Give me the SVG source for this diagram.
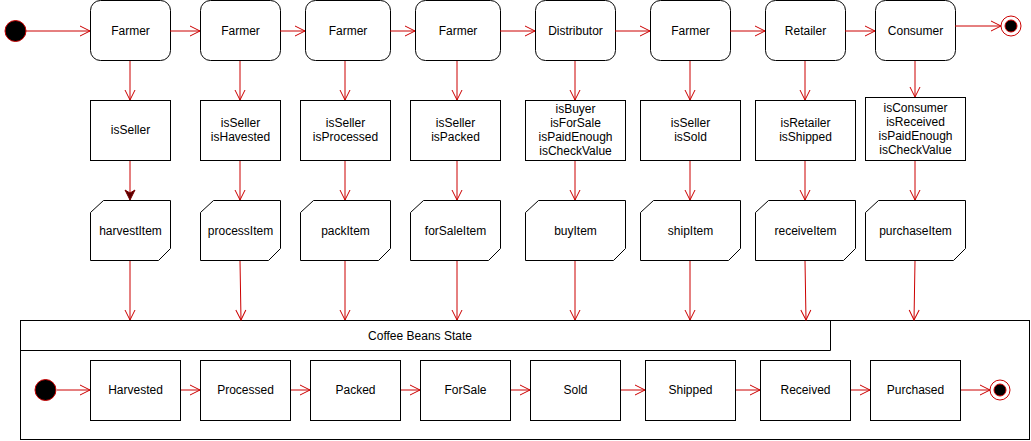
<svg xmlns="http://www.w3.org/2000/svg" width="1031" height="441" viewBox="0 0 1031 441">
<defs>
<style>
text{font-family:"Liberation Sans",Arial,sans-serif;font-size:12px;fill:#000;text-anchor:middle;dominant-baseline:central}
.node{fill:#fff;stroke:#000;stroke-width:1}
.edge{fill:none;stroke:#cc0000;stroke-width:1;marker-end:url(#arr)}
.edge2{fill:none;stroke:#cc0000;stroke-width:1;marker-end:url(#arrf)}
.start{fill:#000;stroke:#cc0000;stroke-width:1}
</style>
<marker id="arr" markerUnits="userSpaceOnUse" markerWidth="12" markerHeight="12" refX="10" refY="5" orient="auto" viewBox="-1 -1 12 12">
<path d="M0,0 L10,5 L0,10" fill="none" stroke="#cc0000" stroke-width="1"/>
</marker>
<marker id="arrf" markerUnits="userSpaceOnUse" markerWidth="12" markerHeight="12" refX="10" refY="5" orient="auto" viewBox="-1 -1 12 12">
<path d="M0,0 L10,5 L0,10 L3,5 Z" fill="#5a0000" stroke="#7a0000" stroke-width="1"/>
</marker>
</defs>
<rect width="1031" height="441" fill="#fff"/>

<g id="start-top"><circle class="start" cx="15.5" cy="31" r="10.5"/></g>
<g id="end-top"><circle cx="1011" cy="26" r="10" fill="#fff" stroke="#cc0000"/><circle cx="1011" cy="26" r="6" fill="#000" stroke="#cc0000"/></g>

<g id="farmer1"><rect class="node" x="90.5" y="0.5" width="80" height="60" rx="10"/><text x="130.5" y="31">Farmer</text></g>
<g id="farmer2"><rect class="node" x="200.5" y="0.5" width="80" height="60" rx="10"/><text x="240.5" y="31">Farmer</text></g>
<g id="farmer3"><rect class="node" x="305.5" y="0.5" width="85" height="60" rx="10"/><text x="348" y="31">Farmer</text></g>
<g id="farmer4"><rect class="node" x="415.5" y="0.5" width="85" height="60" rx="10"/><text x="458" y="31">Farmer</text></g>
<g id="distributor"><rect class="node" x="535.5" y="0.5" width="80" height="60" rx="10"/><text x="575.5" y="31">Distributor</text></g>
<g id="farmer5"><rect class="node" x="650.5" y="0.5" width="80" height="60" rx="10"/><text x="690.5" y="31">Farmer</text></g>
<g id="retailer"><rect class="node" x="765.5" y="0.5" width="80" height="60" rx="10"/><text x="805.5" y="31">Retailer</text></g>
<g id="consumer"><rect class="node" x="875.5" y="0.5" width="80" height="60" rx="10"/><text x="915.5" y="31">Consumer</text></g>

<g id="cond1"><rect class="node" x="90.5" y="100.5" width="80" height="60"/><text x="130.5" y="130">isSeller</text></g>
<g id="cond2"><rect class="node" x="200.5" y="100.5" width="80" height="60"/><text x="240.5" y="123">isSeller</text><text x="240.5" y="137">isHavested</text></g>
<g id="cond3"><rect class="node" x="300.5" y="100.5" width="90" height="60"/><text x="345.5" y="123">isSeller</text><text x="345.5" y="137">isProcessed</text></g>
<g id="cond4"><rect class="node" x="410.5" y="100.5" width="90" height="60"/><text x="455.5" y="123">isSeller</text><text x="455.5" y="137">isPacked</text></g>
<g id="cond5"><rect class="node" x="525.5" y="100.5" width="100" height="60"/><text x="575.5" y="109">isBuyer</text><text x="575.5" y="123">isForSale</text><text x="575.5" y="137">isPaidEnough</text><text x="575.5" y="151">isCheckValue</text></g>
<g id="cond6"><rect class="node" x="640.5" y="100.5" width="100" height="60"/><text x="690.5" y="123">isSeller</text><text x="690.5" y="137">isSold</text></g>
<g id="cond7"><rect class="node" x="755.5" y="100.5" width="100" height="60"/><text x="805.5" y="123">isRetailer</text><text x="805.5" y="137">isShipped</text></g>
<g id="cond8"><rect class="node" x="865.5" y="97.5" width="100" height="63"/><text x="915.5" y="108">isConsumer</text><text x="915.5" y="122">isReceived</text><text x="915.5" y="136">isPaidEnough</text><text x="915.5" y="150">isCheckValue</text></g>

<g id="harvestItem"><path class="node" d="M103.5,200.5 H170.5 V248.5 L158.5,260.5 H90.5 V212.5 Z"/><text x="130.5" y="231">harvestItem</text></g>
<g id="processItem"><path class="node" d="M213.5,200.5 H280.5 V248.5 L268.5,260.5 H200.5 V212.5 Z"/><text x="240.5" y="231">processItem</text></g>
<g id="packItem"><path class="node" d="M313.5,200.5 H390.5 V248.5 L378.5,260.5 H300.5 V212.5 Z"/><text x="345.5" y="231">packItem</text></g>
<g id="forSaleItem"><path class="node" d="M423.5,200.5 H500.5 V248.5 L488.5,260.5 H410.5 V212.5 Z"/><text x="455.5" y="231">forSaleItem</text></g>
<g id="buyItem"><path class="node" d="M538.5,200.5 H625.5 V248.5 L613.5,260.5 H525.5 V212.5 Z"/><text x="575.5" y="231">buyItem</text></g>
<g id="shipItem"><path class="node" d="M653.5,200.5 H740.5 V248.5 L728.5,260.5 H640.5 V212.5 Z"/><text x="690.5" y="231">shipItem</text></g>
<g id="receiveItem"><path class="node" d="M768.5,200.5 H855.5 V248.5 L843.5,260.5 H755.5 V212.5 Z"/><text x="805.5" y="231">receiveItem</text></g>
<g id="purchaseItem"><path class="node" d="M878.5,200.5 H965.5 V248.5 L953.5,260.5 H865.5 V212.5 Z"/><text x="915.5" y="231">purchaseItem</text></g>

<g id="coffee-beans-state">
<rect class="node" x="20.5" y="320.5" width="1009" height="119"/>
<path d="M20.5,350.5 H830.5 V320.5" fill="none" stroke="#000"/>
<text x="420" y="336">Coffee Beans State</text>
</g>
<g id="start-bottom"><circle class="start" cx="45.5" cy="390" r="10.5"/></g>
<g id="harvested"><rect class="node" x="90.5" y="360.5" width="90" height="60"/><text x="135.5" y="390">Harvested</text></g>
<g id="processed"><rect class="node" x="200.5" y="360.5" width="90" height="60"/><text x="245.5" y="390">Processed</text></g>
<g id="packed"><rect class="node" x="310.5" y="360.5" width="90" height="60"/><text x="355.5" y="390">Packed</text></g>
<g id="forsale"><rect class="node" x="420.5" y="360.5" width="90" height="60"/><text x="465.5" y="390">ForSale</text></g>
<g id="sold"><rect class="node" x="530.5" y="360.5" width="90" height="60"/><text x="575.5" y="390">Sold</text></g>
<g id="shipped"><rect class="node" x="645.5" y="360.5" width="90" height="60"/><text x="690.5" y="390">Shipped</text></g>
<g id="received"><rect class="node" x="760.5" y="360.5" width="90" height="60"/><text x="805.5" y="390">Received</text></g>
<g id="purchased"><rect class="node" x="870.5" y="360.5" width="90" height="60"/><text x="915.5" y="390">Purchased</text></g>
<g id="end-bottom"><circle cx="1000" cy="390" r="10" fill="#fff" stroke="#cc0000"/><circle cx="1000" cy="390" r="6" fill="#000" stroke="#cc0000"/></g>

<g id="connectors">
<line class="edge" x1="26" y1="31" x2="90" y2="31"/>
<line class="edge" x1="170" y1="31" x2="200" y2="31"/>
<line class="edge" x1="280" y1="31" x2="305" y2="31"/>
<line class="edge" x1="390" y1="31" x2="415" y2="31"/>
<line class="edge" x1="500" y1="31" x2="535" y2="31"/>
<line class="edge" x1="615" y1="31" x2="650" y2="31"/>
<line class="edge" x1="730" y1="31" x2="765" y2="31"/>
<line class="edge" x1="845" y1="31" x2="875" y2="31"/>
<line class="edge" x1="955" y1="26" x2="1001" y2="26"/>

<line class="edge" x1="130" y1="61" x2="130" y2="100"/>
<line class="edge" x1="240" y1="61" x2="240" y2="100"/>
<line class="edge" x1="345" y1="61" x2="345" y2="100"/>
<line class="edge" x1="457" y1="61" x2="457" y2="100"/>
<line class="edge" x1="575" y1="61" x2="575" y2="100"/>
<line class="edge" x1="690" y1="61" x2="690" y2="100"/>
<line class="edge" x1="805" y1="61" x2="805" y2="100"/>
<line class="edge" x1="915" y1="61" x2="915" y2="97"/>

<line class="edge2" x1="130" y1="161" x2="130" y2="200"/>
<line class="edge" x1="240" y1="161" x2="240" y2="200"/>
<line class="edge" x1="345" y1="161" x2="345" y2="200"/>
<line class="edge" x1="457" y1="161" x2="457" y2="200"/>
<line class="edge" x1="575" y1="161" x2="575" y2="200"/>
<line class="edge" x1="690" y1="161" x2="690" y2="200"/>
<line class="edge" x1="805" y1="161" x2="805" y2="200"/>
<line class="edge" x1="915" y1="161" x2="915" y2="200"/>

<line class="edge" x1="130" y1="261" x2="130" y2="320"/>
<line class="edge" x1="240" y1="261" x2="241" y2="320"/>
<line class="edge" x1="345" y1="261" x2="345" y2="320"/>
<line class="edge" x1="457" y1="261" x2="457" y2="320"/>
<line class="edge" x1="575" y1="261" x2="575" y2="320"/>
<line class="edge" x1="690" y1="261" x2="690" y2="320"/>
<line class="edge" x1="805" y1="261" x2="806" y2="320"/>
<line class="edge" x1="915" y1="261" x2="914" y2="320"/>

<line class="edge" x1="57" y1="390" x2="90" y2="390"/>
<line class="edge" x1="181" y1="390" x2="200" y2="390"/>
<line class="edge" x1="291" y1="390" x2="310" y2="390"/>
<line class="edge" x1="401" y1="390" x2="420" y2="390"/>
<line class="edge" x1="511" y1="390" x2="530" y2="390"/>
<line class="edge" x1="621" y1="390" x2="645" y2="390"/>
<line class="edge" x1="736" y1="390" x2="760" y2="390"/>
<line class="edge" x1="851" y1="390" x2="870" y2="390"/>
<line class="edge" x1="961" y1="390" x2="990" y2="390"/>
</g>
</svg>
